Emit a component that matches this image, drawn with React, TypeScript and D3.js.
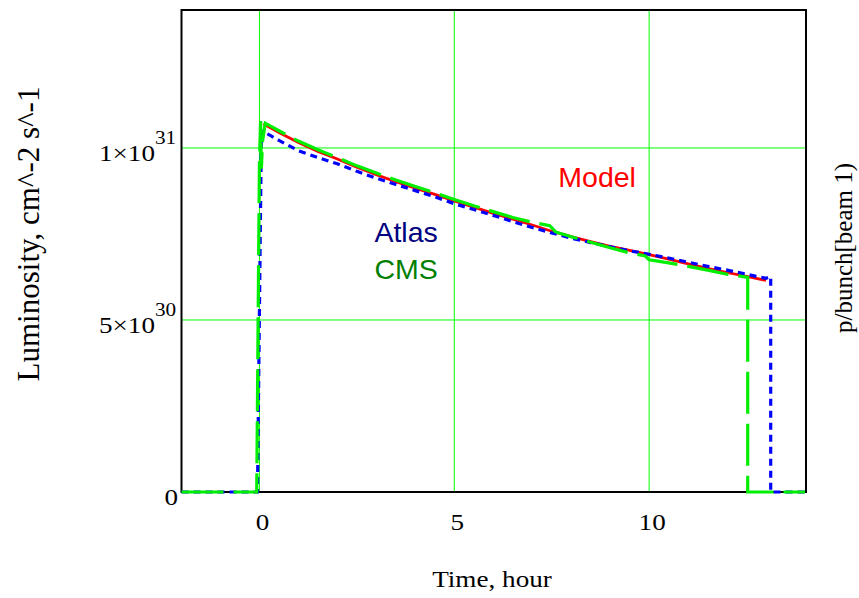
import React from "react";
import * as d3 from "d3";

// values in units of 1e30 cm^-2 s^-1, time in hours
const modelTime = [0.1, 0.5, 1, 1.5, 2, 2.5, 3, 3.5, 4, 4.5, 5, 5.5, 6, 6.5, 7, 7.5, 8, 8.5, 9, 9.5, 10, 10.5, 11, 11.5, 12, 12.5, 13];
const modelLumi = [10.7, 10.45, 10.16, 9.9, 9.68, 9.44, 9.22, 9.02, 8.83, 8.65, 8.46, 8.28, 8.1, 7.93, 7.76, 7.58, 7.42, 7.28, 7.14, 7.02, 6.9, 6.77, 6.63, 6.5, 6.38, 6.27, 6.15];

const atlasTime = [-2, -0.05, 0.05, 0.3, 0.5, 1, 1.5, 2, 2.5, 3, 3.5, 4, 4.5, 5, 5.5, 6, 6.5, 7, 7.5, 8, 8.5, 9, 9.5, 10, 10.5, 11, 11.5, 12, 12.5, 13, 13.12, 13.12, 14];
const atlasLumi = [0, 0, 10.5, 10.35, 10.22, 9.92, 9.72, 9.54, 9.32, 9.12, 8.94, 8.76, 8.58, 8.38, 8.21, 8.04, 7.86, 7.69, 7.53, 7.38, 7.25, 7.13, 7.01, 6.91, 6.8, 6.68, 6.56, 6.45, 6.33, 6.21, 6.26, 0, 0];

const cmsTime = [-2, -0.07, 0.0, 0.03, 0.05, 0.08, 0.15, 0.5, 1, 1.5, 2, 2.5, 3, 3.5, 4, 4.5, 5, 5.5, 6, 6.5, 7, 7.45, 7.6, 8, 8.5, 9, 9.5, 9.9, 10, 10.5, 11, 11.5, 12, 12.53, 12.53, 14];
const cmsLumi = [0, 0, 9.6, 10.78, 9.4, 10.2, 10.72, 10.5, 10.2, 9.95, 9.72, 9.48, 9.27, 9.07, 8.88, 8.7, 8.5, 8.32, 8.15, 7.98, 7.84, 7.74, 7.56, 7.42, 7.26, 7.1, 6.95, 6.86, 6.75, 6.66, 6.56, 6.45, 6.33, 6.24, 0, 0];

const xTicks = [0, 5, 10];
const yTicks = [
  { v: 0, base: "0", exp: "" },
  { v: 5, base: "5×10", exp: "30" },
  { v: 10, base: "1×10", exp: "31" },
];

const legend = [
  { text: "Model", color: "#ff0000", t: 7.67, l: 8.87 },
  { text: "Atlas", color: "#000080", t: 2.95, l: 7.27 },
  { text: "CMS", color: "#008000", t: 2.95, l: 6.19 },
];

const W = 859;
const H = 598;
const L = 181.5, R = 806, T = 10, B = 492;
const SX = 1.18;

export default function App() {
  const x = d3.scaleLinear().domain([-2, 14]).range([L, 805]);
  const y = d3.scaleLinear().domain([0, 14.01]).range([B, T]);
  const line = d3
    .line<[number, number]>()
    .x((d) => x(d[0]))
    .y((d) => y(d[1]));
  const model = modelTime.map((t, i) => [t, modelLumi[i]] as [number, number]);
  const atlas = atlasTime.map((t, i) => [t, atlasLumi[i]] as [number, number]);
  const cms = cmsTime.map((t, i) => [t, cmsLumi[i]] as [number, number]);
  const serif = "'Liberation Serif', 'Times New Roman', serif";
  const sans = "'Liberation Sans', Arial, sans-serif";
  return (
    <svg
      width={W}
      height={H}
      style={{ position: "absolute", left: 0, top: 0, background: "#fff" }}
    >
      <rect x={0} y={0} width={W} height={H} fill="#fff" />
      {xTicks.map((t) => (
        <line key={"gx" + t} x1={x(t)} x2={x(t)} y1={T} y2={B} stroke="#00ff00" strokeWidth={1} />
      ))}
      {yTicks
        .filter((t) => t.v > 0)
        .map((t) => (
          <line key={"gy" + t.v} x1={L} x2={R} y1={y(t.v)} y2={y(t.v)} stroke="#00ff00" strokeWidth={1} />
        ))}
      <rect x={L} y={T} width={R - L} height={B - T} fill="none" stroke="#000" strokeWidth={2} />
      <path d={line(model) || ""} fill="none" stroke="#ff0000" strokeWidth={2.8} />
      <path d={line(atlas) || ""} fill="none" stroke="#0000ff" strokeWidth={3.2} strokeDasharray="7,5" />
      <path d={line(cms) || ""} fill="none" stroke="#00ee00" strokeWidth={3.2} strokeDasharray="42,10" />
      {xTicks.map((t) => (
        <text
          key={"xl" + t}
          transform={`translate(${x(t) + 3},530) scale(${SX},1)`}
          textAnchor="middle"
          fontFamily={serif}
          fontSize={23}
        >
          {t}
        </text>
      ))}
      {yTicks.map((t) => (
        <text
          key={"yl" + t.v}
          transform={`translate(${t.exp ? 155 : 178},${y(t.v) + 13}) scale(${SX},1)`}
          textAnchor="end"
          fontFamily={serif}
          fontSize={23}
        >
          {t.base}
        </text>
      ))}
      {yTicks
        .filter((t) => t.exp)
        .map((t) => (
          <text
            key={"ye" + t.v}
            transform={`translate(155,${y(t.v) - 4}) scale(${SX},1)`}
            textAnchor="start"
            fontFamily={serif}
            fontSize={18}
          >
            {t.exp}
          </text>
        ))}
      {legend.map((g) => (
        <text key={g.text} x={x(g.t)} y={y(g.l)} fill={g.color} fontFamily={sans} fontSize={28.5}>
          {g.text}
        </text>
      ))}
      <text transform={`translate(492,587) scale(${SX},1)`} textAnchor="middle" fontFamily={serif} fontSize={23}>
        Time, hour
      </text>
      <text transform="translate(39,234) rotate(-90)" textAnchor="middle" fontFamily={serif} fontSize={31}>
        Luminosity, cm^-2 s^-1
      </text>
      <text transform="translate(852,248) rotate(-90)" textAnchor="middle" fontFamily={serif} fontSize={25}>
        p/bunch[beam 1)
      </text>
    </svg>
  );
}
